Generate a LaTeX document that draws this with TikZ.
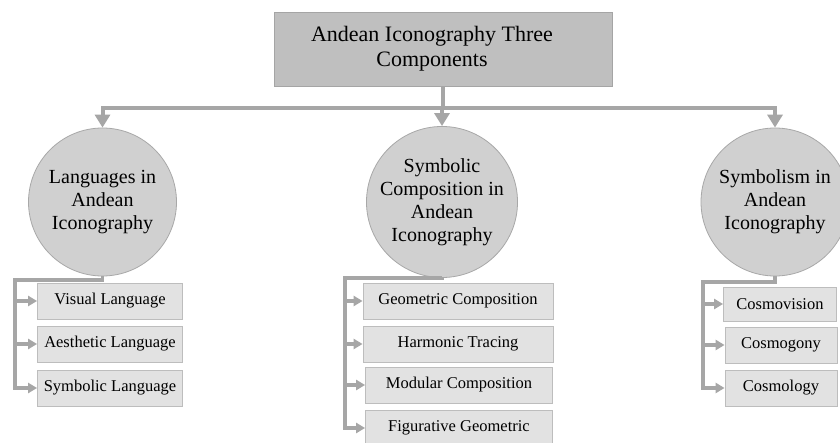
\documentclass[tikz,border=0pt]{standalone}
\usepackage{fontspec}
\setmainfont{Liberation Serif}
\usetikzlibrary{arrows.meta}
\definecolor{conn}{HTML}{A6A6A6}
\definecolor{topfill}{HTML}{BFBFBF}
\definecolor{topline}{HTML}{A5A5A5}
\definecolor{circfill}{HTML}{D0D0D0}
\definecolor{circline}{HTML}{A8A8A8}
\definecolor{itemfill}{HTML}{E2E2E2}
\definecolor{itemline}{HTML}{BDBDBD}
\begin{document}
\begin{tikzpicture}[x=1pt,y=-1pt,
 topbox/.style={draw=topline, fill=topfill, line width=0.8pt, minimum width=338pt, minimum height=74pt, align=center, inner sep=0pt, font=\fontsize{22}{25}\selectfont},
 circ/.style={circle, draw=circline, fill=circfill, line width=0.8pt, minimum size=148pt, inner sep=0pt, align=center, font=\fontsize{20}{23}\selectfont},
 item/.style={draw=itemline, fill=itemfill, line width=0.8pt, minimum height=36pt, inner sep=0pt, font=\fontsize{16.5}{19}\selectfont},
 link/.style={draw=conn, line width=4pt},
 bigarrow/.style={link, -{Triangle[width=15pt,length=13pt]}},
 subarrow/.style={draw=conn, line width=3.5pt, -{Triangle[width=10pt,length=9pt]}}]
\clip (0,0) rectangle (840,443);
\fill[white] (0,0) rectangle (840,443);

\node[topbox] (top) at (443,49) {Andean Iconography Three\hspace*{22pt}\\Components\hspace*{22pt}};

\node[circ] (L) at (102.5,202) {Languages in\\Andean\\Iconography};
\node[circ, minimum size=150pt] (C) at (442,202) {Symbolic\\Composition in\\Andean\\Iconography};
\node[circ] (R) at (775,202) {Symbolism in\\Andean\\Iconography};

\node[item, minimum width=145pt] (l1) at (110,301) {Visual Language};
\node[item, minimum width=145pt] (l2) at (110,344) {Aesthetic Language};
\node[item, minimum width=145pt] (l3) at (110,388) {Symbolic Language};

\node[item, minimum width=190pt] (m1) at (458,301) {Geometric Composition};
\node[item, minimum width=190pt] (m2) at (458,344) {Harmonic Tracing};
\node[item, minimum width=187pt] (m3) at (459,385) {Modular Composition};
\node[item, minimum width=187pt] (m4) at (459,428) {Figurative Geometric};

\node[item, minimum width=113pt, minimum height=34pt] (r1) at (780,304) {Cosmovision};
\node[item, minimum width=112pt] (r2) at (781,345) {Cosmogony};
\node[item, minimum width=112pt] (r3) at (781,388) {Cosmology};

\coordinate (bar) at (443,108);
\draw[link] (top.south) -- (top.south |- bar);
\draw[bigarrow] (R.north |- bar) -- (L.north |- bar) -- (L.north);
\draw[bigarrow] (L.north |- bar) -- (R.north |- bar) -- (R.north);
\draw[bigarrow] (C.north |- bar) -- (C.north);

\coordinate (Lk) at (15,280);
\draw[subarrow] (L.south) |- (Lk) -- (Lk |- l3.west) -- (l3.west);
\draw[subarrow] (Lk |- l1.west) -- (l1.west);
\draw[subarrow] (Lk |- l2.west) -- (l2.west);

\coordinate (Ck) at (345,278);
\draw[subarrow] (C.south) |- (Ck) -- (Ck |- m4.west) -- (m4.west);
\draw[subarrow] (Ck |- m1.west) -- (m1.west);
\draw[subarrow] (Ck |- m2.west) -- (m2.west);
\draw[subarrow] (Ck |- m3.west) -- (m3.west);

\coordinate (Rk) at (703,282);
\draw[subarrow] (R.south) |- (Rk) -- (Rk |- r3.west) -- (r3.west);
\draw[subarrow] (Rk |- r1.west) -- (r1.west);
\draw[subarrow] (Rk |- r2.west) -- (r2.west);
\end{tikzpicture}
\end{document}
